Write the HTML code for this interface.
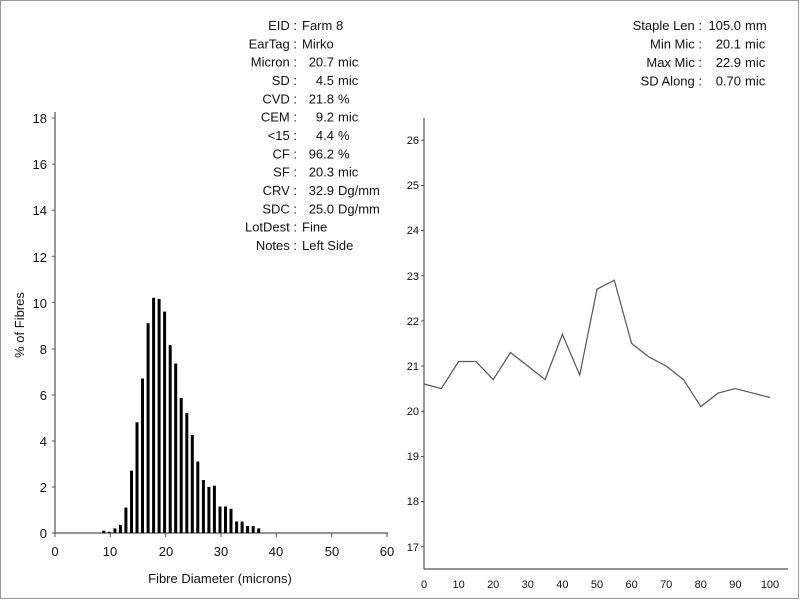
<!DOCTYPE html>
<html><head><meta charset="utf-8"><style>
html,body{margin:0;padding:0;background:#fff}
svg{display:block}
text{font-family:"Liberation Sans",Arial,sans-serif;fill:#111}
.i{font-size:13px}
.t{font-size:12px}
.r{font-size:11px}
</style></head><body>
<svg width="800" height="600" viewBox="0 0 800 600" xmlns="http://www.w3.org/2000/svg">
<rect x="0.5" y="0.5" width="798" height="598" fill="#fff" stroke="#999"/>
<g class="i" text-anchor="end">
<text x="297" y="30">EID :</text><text x="297" y="48.3">EarTag :</text><text x="297" y="66.7">Micron :</text>
<text x="297" y="85">SD :</text><text x="297" y="103.3">CVD :</text><text x="297" y="121.7">CEM :</text>
<text x="297" y="140">&lt;15 :</text><text x="297" y="158.3">CF :</text><text x="297" y="176.7">SF :</text>
<text x="297" y="195">CRV :</text><text x="297" y="213.3">SDC :</text><text x="297" y="231.7">LotDest :</text>
<text x="297" y="250">Notes :</text>
<text x="334" y="66.7">20.7</text><text x="334" y="85">4.5</text><text x="334" y="103.3">21.8</text><text x="334" y="121.7">9.2</text>
<text x="334" y="140">4.4</text><text x="334" y="158.3">96.2</text><text x="334" y="176.7">20.3</text><text x="334" y="195">32.9</text><text x="334" y="213.3">25.0</text>
</g>
<g class="i">
<text x="302" y="30">Farm 8</text><text x="302" y="48.3">Mirko</text>
<text x="338" y="66.7">mic</text><text x="338" y="85">mic</text><text x="338" y="103.3">%</text><text x="338" y="121.7">mic</text>
<text x="338" y="140">%</text><text x="338" y="158.3">%</text><text x="338" y="176.7">mic</text><text x="338" y="195">Dg/mm</text><text x="338" y="213.3">Dg/mm</text>
<text x="302" y="231.7">Fine</text><text x="302" y="250">Left Side</text>
</g>
<g class="i" text-anchor="end">
<text x="702" y="30">Staple Len :</text><text x="702" y="48.5">Min Mic :</text><text x="702" y="67">Max Mic :</text><text x="702" y="85.5">SD Along :</text>
<text x="741" y="30">105.0</text><text x="741" y="48.5">20.1</text><text x="741" y="67">22.9</text><text x="741" y="85.5">0.70</text>
</g>
<g class="i">
<text x="745" y="30">mm</text><text x="745" y="48.5">mic</text><text x="745" y="67">mic</text><text x="745" y="85.5">mic</text>
</g>
<!-- left chart -->
<g stroke="#555" stroke-width="1.2" fill="none">
<line x1="55" y1="112" x2="55" y2="533"/><line x1="55" y1="533" x2="388" y2="533"/>
</g>
<g class="i" text-anchor="end">
<text x="47" y="538">0</text><text x="47" y="492">2</text><text x="47" y="446">4</text><text x="47" y="400">6</text><text x="47" y="354">8</text><text x="47" y="308">10</text><text x="47" y="262">12</text><text x="47" y="215">14</text><text x="47" y="169">16</text><text x="47" y="123">18</text>
</g>
<g class="i" text-anchor="middle">
<text x="55" y="556">0</text><text x="110" y="556">10</text><text x="166" y="556">20</text><text x="221" y="556">30</text><text x="276" y="556">40</text><text x="332" y="556">50</text><text x="387" y="556">60</text>
</g>
<text class="i" x="220" y="583" text-anchor="middle">Fibre Diameter (microns)</text>
<text class="i" x="24" y="325" text-anchor="middle" transform="rotate(-90 24 325)">% of Fibres</text>
<g stroke="#555" stroke-width="1">
<line x1="52" y1="533" x2="55" y2="533"/><line x1="52" y1="487" x2="55" y2="487"/><line x1="52" y1="441" x2="55" y2="441"/><line x1="52" y1="395" x2="55" y2="395"/><line x1="52" y1="349" x2="55" y2="349"/><line x1="52" y1="302.4" x2="55" y2="302.4"/><line x1="52" y1="256.3" x2="55" y2="256.3"/><line x1="52" y1="210.2" x2="55" y2="210.2"/><line x1="52" y1="164.2" x2="55" y2="164.2"/><line x1="52" y1="118" x2="55" y2="118"/>
<line x1="55" y1="533" x2="55" y2="537"/><line x1="110.3" y1="533" x2="110.3" y2="537"/><line x1="165.7" y1="533" x2="165.7" y2="537"/><line x1="221" y1="533" x2="221" y2="537"/><line x1="276.3" y1="533" x2="276.3" y2="537"/><line x1="331.7" y1="533" x2="331.7" y2="537"/><line x1="387" y1="533" x2="387" y2="537"/>
</g>
<g fill="#000">
<rect x="102.3" y="530.7" width="3" height="2.3"/><rect x="107.8" y="531.8" width="3" height="1.2"/><rect x="113.4" y="528.4" width="3" height="4.6"/><rect x="118.9" y="524.9" width="3" height="8.1"/><rect x="124.4" y="507.6" width="3" height="25.4"/><rect x="130" y="470.7" width="3" height="62.3"/><rect x="135.5" y="422.3" width="3" height="110.7"/><rect x="141" y="378.5" width="3" height="154.5"/><rect x="146.6" y="323.2" width="3" height="209.8"/><rect x="152.1" y="297.8" width="3" height="235.2"/><rect x="157.6" y="299" width="3" height="234"/><rect x="163.1" y="311.6" width="3" height="221.4"/><rect x="168.7" y="345.1" width="3" height="187.9"/><rect x="174.2" y="363.5" width="3" height="169.5"/><rect x="179.7" y="398.1" width="3" height="134.9"/><rect x="185.3" y="413.1" width="3" height="119.9"/><rect x="190.8" y="435" width="3" height="98"/><rect x="196.3" y="461.5" width="3" height="71.5"/><rect x="201.9" y="480" width="3" height="53"/><rect x="207.4" y="486.9" width="3" height="46.1"/><rect x="212.9" y="485.7" width="3" height="47.3"/><rect x="218.5" y="506.5" width="3" height="26.5"/><rect x="224" y="506.5" width="3" height="26.5"/><rect x="229.5" y="508.8" width="3" height="24.2"/><rect x="235.1" y="521.5" width="3" height="11.5"/><rect x="240.6" y="521.5" width="3" height="11.5"/><rect x="246.1" y="526.1" width="3" height="6.9"/><rect x="251.7" y="526.1" width="3" height="6.9"/><rect x="257.2" y="528.4" width="3" height="4.6"/>
</g>
<!-- right chart -->
<g stroke="#555" stroke-width="1.2" fill="none">
<line x1="424" y1="118" x2="424" y2="569"/><line x1="424" y1="569" x2="788" y2="569"/>
</g>
<g stroke="#555" stroke-width="1">
<line x1="421" y1="140.3" x2="424" y2="140.3"/><line x1="421" y1="185.5" x2="424" y2="185.5"/><line x1="421" y1="230.6" x2="424" y2="230.6"/><line x1="421" y1="275.8" x2="424" y2="275.8"/><line x1="421" y1="320.9" x2="424" y2="320.9"/><line x1="421" y1="366" x2="424" y2="366"/><line x1="421" y1="411.2" x2="424" y2="411.2"/><line x1="421" y1="456.4" x2="424" y2="456.4"/><line x1="421" y1="501.5" x2="424" y2="501.5"/><line x1="421" y1="546.7" x2="424" y2="546.7"/>
</g>
<g class="r" text-anchor="end">
<text x="419" y="144">26</text><text x="419" y="189">25</text><text x="419" y="234">24</text><text x="419" y="280">23</text><text x="419" y="325">22</text><text x="419" y="370">21</text><text x="419" y="415">20</text><text x="419" y="460">19</text><text x="419" y="505">18</text><text x="419" y="551">17</text>
</g>
<g class="r" text-anchor="middle">
<text x="424" y="588">0</text><text x="458.6" y="588">10</text><text x="493.2" y="588">20</text><text x="527.8" y="588">30</text><text x="562.4" y="588">40</text><text x="597" y="588">50</text><text x="631.6" y="588">60</text><text x="666.2" y="588">70</text><text x="700.8" y="588">80</text><text x="735.4" y="588">90</text><text x="770" y="588">100</text>
</g>
<polyline fill="none" stroke="#555" stroke-width="1.2" points="424,384 441.3,388.6 458.6,361.5 475.9,361.5 493.2,379.6 510.5,352.5 527.8,366 545.1,379.6 562.4,334.4 579.7,375 597,289.2 614.3,280.2 631.6,343.4 648.9,357 666.2,366 683.5,379.6 700.8,406.6 718.1,393.1 735.4,388.6 752.7,393.1 770,397.6"/>
</svg>
</body></html>
